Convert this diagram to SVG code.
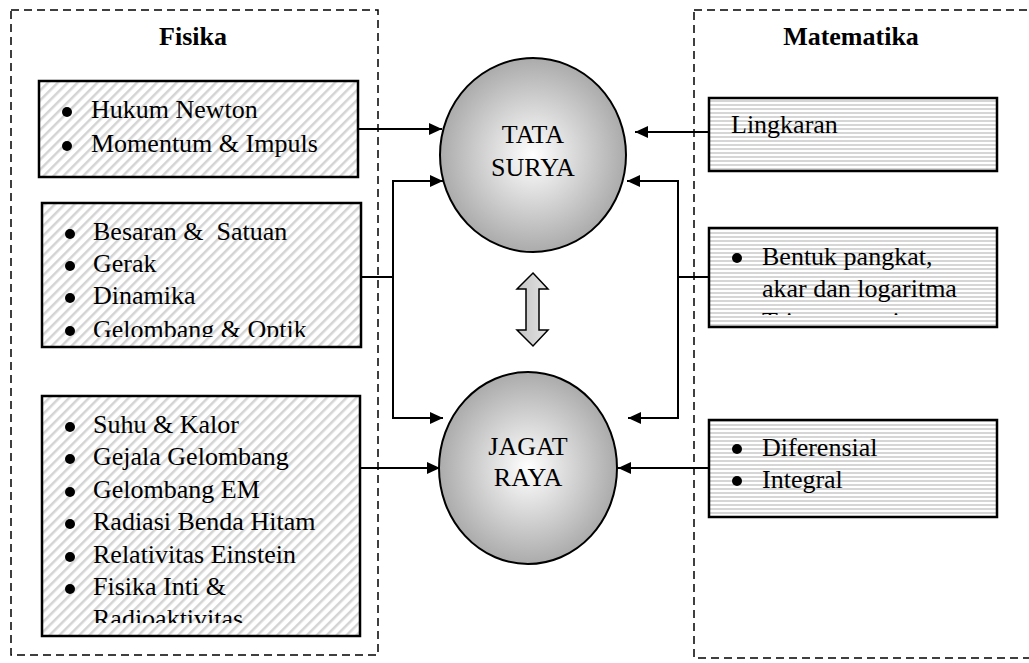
<svg xmlns="http://www.w3.org/2000/svg" width="1029" height="663" viewBox="0 0 1029 663">
<style>
.t{font-family:"Liberation Serif","Times New Roman",serif;font-size:26px;fill:#000;white-space:pre}
.title{font-weight:bold}
.dash{fill:none;stroke:#000;stroke-width:1.5;stroke-dasharray:8 5}
.box{stroke:#000;stroke-width:2.5}
.line{fill:none;stroke:#000;stroke-width:2}
.circ{fill:url(#rg);stroke:#000;stroke-width:2}
.b{fill:#000}
</style>
<defs>
<pattern id="diag" width="7" height="7" patternUnits="userSpaceOnUse" patternTransform="rotate(45)">
<rect width="7" height="7" fill="#fff"/>
<rect x="0" y="0" width="2.5" height="7" fill="#d4d4d4"/>
</pattern>
<pattern id="horiz" width="4" height="4" patternUnits="userSpaceOnUse">
<rect width="4" height="4" fill="#fff"/>
<rect x="0" y="0" width="4" height="2" fill="#d6d6d6"/>
</pattern>
<radialGradient id="rg" cx="50%" cy="50%" r="50%">
<stop offset="0" stop-color="#ffffff"/>
<stop offset="1" stop-color="#ababab"/>
</radialGradient>
<linearGradient id="lg" x1="0" y1="0" x2="1" y2="0">
<stop offset="0" stop-color="#c4c4c4"/>
<stop offset="1" stop-color="#e4e4e4"/>
</linearGradient>
<marker id="ah" markerWidth="14" markerHeight="14" refX="13" refY="7" orient="auto" markerUnits="userSpaceOnUse">
<path d="M0,1 L13,7 L0,13 Z" fill="#000"/>
</marker>
<clipPath id="cb2"><rect x="42" y="203" width="319" height="134"/></clipPath>
<clipPath id="cb3"><rect x="42" y="396" width="318" height="227"/></clipPath>
<clipPath id="cm2"><rect x="709" y="228" width="288" height="87"/></clipPath>
</defs>

<g id="fisika-frame">
<rect class="dash" x="11" y="10" width="367" height="645"/>
<text class="t title" x="193" y="45" text-anchor="middle">Fisika</text>
</g>
<g id="matematika-frame">
<rect class="dash" x="694" y="10" width="345" height="648"/>
<text class="t title" x="851" y="45" text-anchor="middle">Matematika</text>
</g>

<g id="connectors">
<path class="line" d="M358,129 H442" marker-end="url(#ah)"/>
<path class="line" d="M361,277 H393"/>
<path class="line" d="M393,181 V418"/>
<path class="line" d="M392,181 H443" marker-end="url(#ah)"/>
<path class="line" d="M392,418 H443" marker-end="url(#ah)"/>
<path class="line" d="M360,468 H440" marker-end="url(#ah)"/>
<path class="line" d="M710,132 H635" marker-end="url(#ah)"/>
<path class="line" d="M709,277 H678"/>
<path class="line" d="M678,181 V418"/>
<path class="line" d="M679,181 H627" marker-end="url(#ah)"/>
<path class="line" d="M679,418 H628" marker-end="url(#ah)"/>
<path class="line" d="M709,468 H618" marker-end="url(#ah)"/>
</g>

<g id="double-arrow">
<path d="M533,273 L548,289 L539,289 L539,330 L548,330 L533,346 L517,330 L526,330 L526,289 L517,289 Z" fill="url(#lg)" stroke="#000" stroke-width="1.5" stroke-linejoin="miter"/>
</g>

<g id="tata-surya">
<ellipse class="circ" cx="533" cy="155" rx="93" ry="97"/>
<text class="t" x="533" y="143" text-anchor="middle">TATA</text>
<text class="t" x="533" y="176" text-anchor="middle">SURYA</text>
</g>
<g id="jagat-raya">
<ellipse class="circ" cx="528" cy="468" rx="89" ry="96"/>
<text class="t" x="528" y="455" text-anchor="middle">JAGAT</text>
<text class="t" x="528" y="486" text-anchor="middle">RAYA</text>
</g>

<g id="fisika-1">
<rect class="box" x="39" y="81" width="319" height="96" fill="url(#diag)"/>
<circle class="b" cx="67" cy="112" r="5"/>
<text class="t" x="91" y="118">Hukum Newton</text>
<circle class="b" cx="67" cy="146" r="5"/>
<text class="t" x="91" y="152">Momentum &amp; Impuls</text>
</g>

<g id="fisika-2">
<rect class="box" x="42" y="203" width="319" height="144" fill="url(#diag)"/>
<g clip-path="url(#cb2)">
<circle class="b" cx="70" cy="234" r="5"/>
<text class="t" x="93" y="240">Besaran &amp;  Satuan</text>
<circle class="b" cx="70" cy="266" r="5"/>
<text class="t" x="93" y="272">Gerak</text>
<circle class="b" cx="70" cy="298" r="5"/>
<text class="t" x="93" y="304">Dinamika</text>
<circle class="b" cx="70" cy="331" r="5"/>
<text class="t" x="93" y="338">Gelombang &amp; Optik</text>
</g>
</g>

<g id="fisika-3">
<rect class="box" x="42" y="396" width="318" height="240" fill="url(#diag)"/>
<g clip-path="url(#cb3)">
<circle class="b" cx="70" cy="427" r="5"/>
<text class="t" x="93" y="433">Suhu &amp; Kalor</text>
<circle class="b" cx="70" cy="459" r="5"/>
<text class="t" x="93" y="465">Gejala Gelombang</text>
<circle class="b" cx="70" cy="492" r="5"/>
<text class="t" x="93" y="498">Gelombang EM</text>
<circle class="b" cx="70" cy="524" r="5"/>
<text class="t" x="93" y="530">Radiasi Benda Hitam</text>
<circle class="b" cx="70" cy="557" r="5"/>
<text class="t" x="93" y="563">Relativitas Einstein</text>
<circle class="b" cx="70" cy="589" r="5"/>
<text class="t" x="93" y="595">Fisika Inti &amp;</text>
<text class="t" x="93" y="627">Radioaktivitas</text>
</g>
</g>

<g id="matematika-1">
<rect class="box" x="709" y="98" width="288" height="73" fill="url(#horiz)"/>
<text class="t" x="731" y="133">Lingkaran</text>
</g>

<g id="matematika-2">
<rect class="box" x="709" y="228" width="288" height="99" fill="url(#horiz)"/>
<g clip-path="url(#cm2)">
<circle class="b" cx="737" cy="258" r="5"/>
<text class="t" x="762" y="265">Bentuk pangkat,</text>
<text class="t" x="762" y="297">akar dan logaritma</text>
<circle class="b" cx="737" cy="323" r="5"/>
<text class="t" x="762" y="330">Trigonometri</text>
</g>
</g>

<g id="matematika-3">
<rect class="box" x="709" y="420" width="288" height="97" fill="url(#horiz)"/>
<circle class="b" cx="737" cy="449" r="5"/>
<text class="t" x="762" y="456">Diferensial</text>
<circle class="b" cx="737" cy="481" r="5"/>
<text class="t" x="762" y="488">Integral</text>
</g>
</svg>
